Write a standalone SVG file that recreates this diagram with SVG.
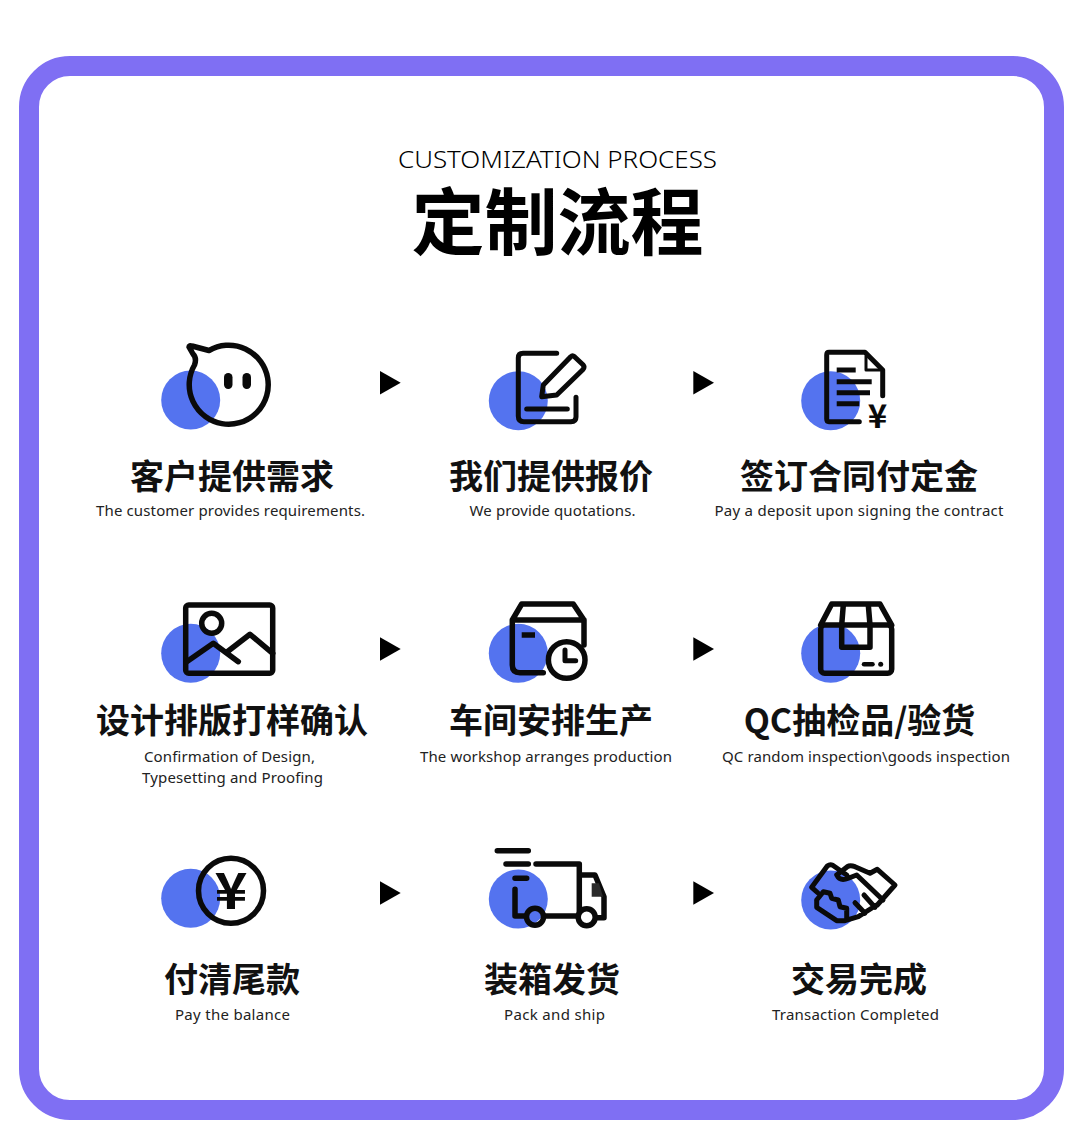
<svg xmlns="http://www.w3.org/2000/svg" xmlns:xlink="http://www.w3.org/1999/xlink" width="1080" height="1145" viewBox="0 0 1080 1145">
<style>
.en{font-family:"Noto Sans","Liberation Sans",sans-serif;font-size:15px;fill:#222;text-anchor:middle}
.cn{font-family:"Noto Sans CJK SC",sans-serif;font-size:34px;font-weight:700;fill:#111;text-anchor:middle}
.dot{fill:#5473ef}
.i{fill:none;stroke:#0a0a0a;stroke-width:5;stroke-linecap:round;stroke-linejoin:round}
.s{fill:#0a0a0a;font-family:"Noto Sans CJK SC",sans-serif;font-weight:700;text-anchor:middle}
</style>
<defs><polygon id="arrow" points="0,-11.7 20.7,0 0,11.7" fill="#000"/></defs>
<rect width="1080" height="1145" fill="#fff"/>
<rect id="frame" x="29" y="66" width="1025" height="1044" rx="41" fill="none" stroke="#7f6ff3" stroke-width="20"/>
<g id="title">
<text x="557.500" y="168" textLength="319" lengthAdjust="spacingAndGlyphs" font-family="'Noto Sans','Liberation Sans',sans-serif" font-weight="300" font-size="24" fill="#000" text-anchor="middle">CUSTOMIZATION PROCESS</text>
<text x="557.500" y="249" font-family="'Noto Sans CJK SC',sans-serif" font-weight="700" font-size="73" fill="#000" text-anchor="middle">定制流程</text>
</g>
<g id="connectors">
<use xlink:href="#arrow" href="#arrow" x="380" y="382.700"/>
<use xlink:href="#arrow" href="#arrow" x="693.300" y="382.700"/>
<use xlink:href="#arrow" href="#arrow" x="380" y="649"/>
<use xlink:href="#arrow" href="#arrow" x="693.300" y="649"/>
<use xlink:href="#arrow" href="#arrow" x="380" y="893"/>
<use xlink:href="#arrow" href="#arrow" x="693.300" y="893"/>
</g>
<g id="node-1">
<circle class="dot" cx="190.700" cy="400" r="29.500"/>
<path class="i" style="stroke-width:5.500" d="M189,347 Q189,345 192,346 L209,350.500 A39.500,39.500 0 1 1 194.500,365 Q197,358 193,354 Z"/>
<rect x="224" y="373" width="8.500" height="16" rx="4.200" fill="#0a0a0a"/><rect x="242.500" y="373" width="8.500" height="16" rx="4.200" fill="#0a0a0a"/>
<text class="cn" x="232" y="489">客户提供需求</text>
<text class="en" x="230.500" y="516" textLength="269">The customer provides requirements.</text>
</g>
<g id="node-2">
<circle class="dot" cx="518.300" cy="400.700" r="29.500"/>
<path class="i" d="M556.700,353.300 H523 Q518.300,353.300 518.300,358 V416 Q518.300,421.700 524,421.700 H571 Q576,421.700 576,417 V397.300"/>
<path class="i" d="M526.700,409 H567.300"/>
<path class="i" d="M541.700,396.700 L543.300,385 L570.700,356.700 Q572.500,355 574.500,356.700 L583,364.800 Q585,367 583,369.500 L556.700,395 Z"/>
<text class="cn" x="551" y="489">我们提供报价</text>
<text class="en" x="552.500" y="516" textLength="166">We provide quotations.</text>
</g>
<g id="node-3">
<circle class="dot" cx="830.700" cy="400.700" r="29.500"/>
<path class="i" d="M859.300,421.700 H829 Q826.700,421.700 826.700,419 V355 Q826.700,352.300 829,352.300 H865 L882.700,370 V395.700"/>
<path class="i" style="stroke-width:3" d="M866,356 V370 H881"/>
<path class="i" style="stroke-linecap:butt" d="M836.700,370 H855.700 M836.700,381.700 H871.700 M836.700,392.700 H870 M836.700,403.700 H859.300"/>
<text class="s" x="877.500" y="428" font-size="33" font-weight="500">¥</text>
<text class="cn" x="859" y="489">签订合同付定金</text>
<text class="en" x="859" y="516" textLength="289">Pay a deposit upon signing the contract</text>
</g>
<g id="node-4">
<circle class="dot" cx="190.700" cy="653.300" r="29.500"/>
<rect class="i" style="stroke-width:5.500" x="185.700" y="605" width="87" height="68.300" rx="3"/>
<circle class="i" style="stroke-width:5.500" cx="211.700" cy="623.300" r="10"/>
<path class="i" style="stroke-width:5.500" d="M186.700,661.700 L213.300,643.300 L238.300,661.700 M227.300,651.700 L250,634.300 L272.700,653.300"/>
<text class="cn" x="232" y="733">设计排版打样确认</text>
<text class="en" x="229.500" y="762" textLength="171">Confirmation of Design,</text>
<text class="en" x="232.500" y="783" textLength="181">Typesetting and Proofing</text>
</g>
<g id="node-5">
<circle class="dot" cx="518.300" cy="653.300" r="29.500"/>
<path class="i" style="stroke-width:5.500" d="M543.300,672.700 H520 Q512.300,672.700 512.300,665 V620 L521.700,604 H573.300 L584,620 V645 M512.300,620 H584"/>
<path class="i" style="stroke-width:5.500;stroke-linecap:butt" d="M521.700,635 H535"/>
<circle class="i" style="fill:#fff;stroke-width:5.500" cx="566.700" cy="660" r="18.300"/>
<path class="i" d="M565,650 V660.700 H575.700"/>
<text class="cn" x="551" y="733">车间安排生产</text>
<text class="en" x="546" y="762" textLength="252">The workshop arranges production</text>
</g>
<g id="node-6">
<circle class="dot" cx="830.700" cy="653.300" r="29.500"/>
<rect class="i" style="stroke-width:5.500" x="820.700" y="625" width="71" height="48.300" rx="4"/>
<path class="i" style="stroke-width:5.500" d="M820.700,625 L831.700,604 H880 L891.700,625 M843.300,605 L841.700,625 V647.300 H870 V625 L868.300,605"/>
<path class="i" style="stroke-width:4.500" d="M864,664.300 H872.500"/>
<circle cx="880.700" cy="664.300" r="2.500" fill="#0a0a0a"/>
<text class="cn" x="859.500" y="733">QC抽检品/验货</text>
<text class="en" x="866" y="762" textLength="288">QC random inspection\goods inspection</text>
</g>
<g id="node-7">
<circle class="dot" cx="190.700" cy="898.300" r="29.500"/>
<circle class="i" style="stroke-width:5.500" cx="231" cy="890.700" r="32.500"/>
<text class="s" x="231" y="909" font-size="50" font-weight="500" textLength="33" lengthAdjust="spacingAndGlyphs">¥</text>
<text class="cn" x="232" y="992">付清尾款</text>
<text class="en" x="232.500" y="1020" textLength="115">Pay the balance</text>
</g>
<g id="node-8">
<circle class="dot" cx="518.300" cy="899" r="29.500"/>
<path class="i" style="stroke-width:5.500" d="M497.300,850.700 H528.300 M506,864 H528.300 M536,864 H579.300 V916 H545 M515,878.300 H526.700 M515,889.300 V916 H526 M579.300,875 H595 L604,896.700 V917.700 H596"/>
<path d="M591.700,883.300 H599 L603,896.700 H591.700 Z" fill="#2a2a2a"/>
<circle class="i" style="stroke-width:5.500" cx="535" cy="916.700" r="8.500"/>
<circle class="i" style="fill:#fff;stroke-width:5.500" cx="586.700" cy="917.300" r="8.500"/>
<text class="cn" x="552" y="992">装箱发货</text>
<text class="en" x="554.500" y="1020" textLength="101">Pack and ship</text>
</g>
<g id="node-9">
<circle class="dot" cx="830.700" cy="900" r="29.500"/>
<path class="i" d="M811.700,887.300 L827.300,866 Q830,864 832.700,865.300 L846.700,875 M836.700,875 L847.300,866.700 Q850,865 855,866.700 L870,873.300 L877.300,869.300 L895,885 L877.300,905 M836.700,875 Q840,881.700 848.300,878.300 L856.700,875 L883,900 M811.700,887.300 L818,893 M816.700,900 L823.300,891.700 L830,893.300 L831.700,898.300 L838.300,900 L840,906.700 L846.700,908.300 L846.700,918 M816.700,900 V907.300 L836.700,920.700 H845 L858.300,916.700 L876.700,905 M855,902.700 L865,913.300 M864,895 L875,907.300"/>
<text class="cn" x="859" y="992">交易完成</text>
<text class="en" x="855.500" y="1020" textLength="167">Transaction Completed</text>
</g>
</svg>
